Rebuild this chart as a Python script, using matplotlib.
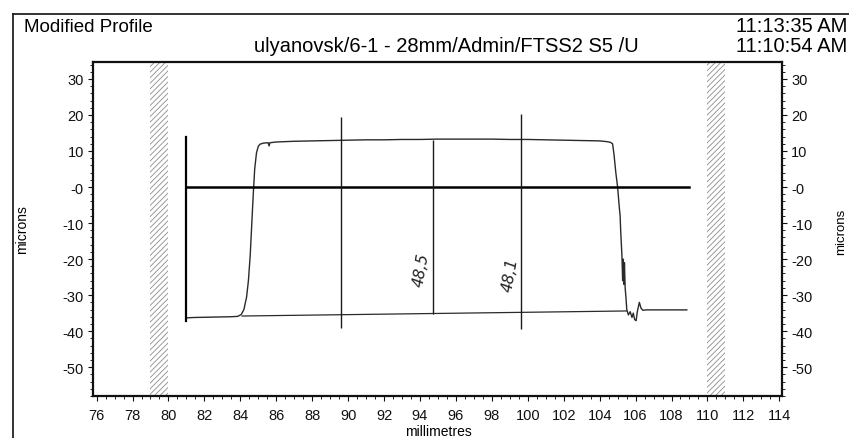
import matplotlib
matplotlib.use("Agg")
import matplotlib.pyplot as plt
from matplotlib.ticker import FixedLocator, FixedFormatter, AutoMinorLocator
from matplotlib.lines import Line2D

plt.rcParams['font.family'] = ['Liberation Sans', 'DejaVu Sans']
plt.rcParams['hatch.linewidth'] = 0.6

# ---- data ----
profile_x = [81.0, 81.5, 82.5, 83.5, 83.85, 84.05, 84.2, 84.35, 84.45, 84.55, 84.65,
             84.72, 84.8, 84.9, 85.0, 85.1, 85.3, 85.55, 85.6, 85.65, 86.0, 87.0, 88.0,
             89.0, 90.0, 91.0, 92.0, 93.0, 94.0, 95.0, 96.0, 97.0, 98.0, 99.0, 100.0,
             101.0, 102.0, 103.0, 104.0, 104.4, 104.6, 104.72, 104.8, 104.9, 105.0,
             105.1, 105.14, 105.17, 105.2, 105.24, 105.28, 105.31, 105.35, 105.38,
             105.42, 105.47, 105.51, 105.6, 105.7, 105.8, 105.87, 105.95, 106.03,
             106.1, 106.21, 106.3, 106.4, 106.6, 107.5, 108.85]
profile_y = [-36.3, -36.2, -36.1, -36.0, -35.9, -35.4, -34.0, -30.5, -26.0, -19.0, -9.0,
             -2.0, 5.0, 9.5, 11.3, 11.9, 12.2, 12.3, 11.4, 12.3, 12.5, 12.7, 12.8,
             12.9, 13.0, 13.1, 13.1, 13.2, 13.2, 13.3, 13.3, 13.3, 13.3, 13.2, 13.2,
             13.1, 13.0, 12.9, 12.8, 12.6, 12.4, 12.0, 9.0, 4.0, 0.0,
             -6.0, -8.0, -12.0, -15.0, -19.0, -26.0, -20.0, -27.0, -21.0,
             -28.0, -31.0, -34.0, -35.5, -34.6, -36.2, -35.0, -36.8, -37.1,
             -34.5, -32.0, -33.6, -34.2, -34.1, -34.1, -34.1]

baseline_x = [84.1, 105.5]
baseline_y = [-35.8, -34.4]

marker_x = [81.0, 81.0]
marker_y = [13.9, -37.2]

zero_x = [81.0, 109.0]
zero_y = [0.0, 0.0]

cursor_x = [89.6, 94.7, 99.65]
cursor_top = [19.4, 13.1, 20.3]
cursor_bottom = [-39.2, -35.3, -39.4]

notes = ["48,5", "48,1"]
notes_x = [94.1, 99.0]
notes_y = [-22.8, -24.2]

bands = [(79.0, 80.0), (110.0, 111.0)]

y_ticks = [30, 20, 10, 0, -10, -20, -30, -40, -50]
y_labels = ["30", "20", "10", "-0", "-10", "-20", "-30", "-40", "-50"]
x_ticks = list(range(76, 115, 2))
x_labels = [str(v) for v in x_ticks]

title_left = "Modified Profile"
title_mid = "ulyanovsk/6-1 - 28mm/Admin/FTSS2 S5 /U"
time1 = "11:13:35 AM"
time2 = "11:10:54 AM"

# ---- figure ----
W, H = 849, 439
fig = plt.figure(figsize=(W / 100, H / 100), dpi=100)
fig.patch.set_facecolor('white')

def fx(px):
    return px / W

def fy(py):
    return 1 - py / H

ax = fig.add_axes([fx(93), fy(397), fx(782) - fx(93), fy(63) - fy(397)])
ax.set_xlim(75.8, 114.15)
ax.set_ylim(-58.0, 34.7)

for (a, b) in bands:
    ax.axvspan(a, b, facecolor='none', edgecolor='#8c8c8c', linewidth=0, hatch='//////')

ax.plot(baseline_x, baseline_y, color='#2a2a2a', lw=0.9)
ax.plot(profile_x, profile_y, color='#2a2a2a', lw=1.0)
ax.plot(marker_x, marker_y, color='black', lw=1.6)
ax.plot(zero_x, zero_y, color='black', lw=1.8)
ax.vlines(cursor_x, cursor_bottom, cursor_top, color='#1a1a1a', lw=1.0)

for t, x, y in zip(notes, notes_x, notes_y):
    ax.text(x, y, t, rotation=80, ha='center', va='center', fontsize=11,
            fontstyle='italic', family=['DejaVu Sans'], color='#222222')

for s in ax.spines.values():
    s.set_linewidth(1.6)
    s.set_color('#111111')

ax.yaxis.set_major_locator(FixedLocator(y_ticks))
ax.yaxis.set_major_formatter(FixedFormatter(y_labels))
ax.xaxis.set_major_locator(FixedLocator(x_ticks))
ax.xaxis.set_major_formatter(FixedFormatter(x_labels))
ax.yaxis.set_minor_locator(AutoMinorLocator(5))
ax.xaxis.set_minor_locator(AutoMinorLocator(4))
ax.tick_params(axis='both', which='major', direction='out', length=3.5, width=0.8,
               labelsize=10.5, colors='#111111')
ax.tick_params(axis='both', which='minor', direction='out', length=2, width=0.6)
ax.tick_params(axis='y', which='both', left=True, right=True, labelleft=True, labelright=True, pad=3)
ax.tick_params(axis='x', which='both', top=False, bottom=True, pad=5)

# axis labels
fig.text(fx(22), fy(230), "microns", rotation=90, ha='center', va='center', fontsize=10)
fig.text(fx(841), fy(232), "microns", rotation=90, ha='center', va='center', fontsize=9.5)
fig.text(fx(438), fy(432), "millimetres", ha='center', va='center', fontsize=10)

# header texts
fig.text(fx(24), fy(27), title_left, ha='left', va='center', fontsize=13.5)
fig.text(fx(446), fy(47), title_mid, ha='center', va='center', fontsize=14.5)
fig.text(fx(736), fy(27), time1, ha='left', va='center', fontsize=14.5)
fig.text(fx(736), fy(47), time2, ha='left', va='center', fontsize=14.5)

# outer frame lines
fig.add_artist(Line2D([fx(13), fx(13)], [fy(15), 0], transform=fig.transFigure,
                      color='#222222', lw=1.3))
fig.add_artist(Line2D([fx(13), 1], [fy(15), fy(15)], transform=fig.transFigure,
                      color='#222222', lw=1.3))

fig.savefig("out.png", dpi=100, facecolor='white')
